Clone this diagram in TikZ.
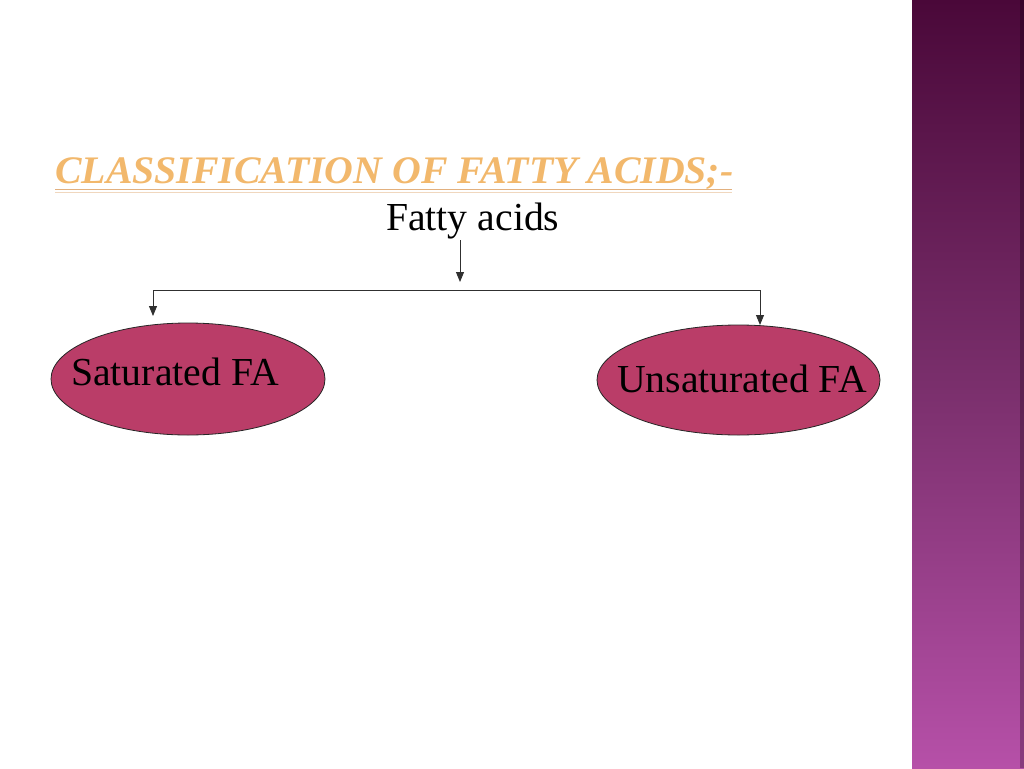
\documentclass[tikz,border=0pt]{standalone}
\usepackage{fontspec}
\setmainfont{Liberation Serif}
\usetikzlibrary{shapes.geometric,arrows.meta}
\definecolor{sidetop}{HTML}{4A0839}
\definecolor{sidemid}{HTML}{7A2F6C}
\definecolor{sidebot}{HTML}{B650A8}
\definecolor{ellfill}{HTML}{BA3D68}
\definecolor{titlecol}{HTML}{F2B86C}
\definecolor{ulinecol}{HTML}{E2B07E}
\definecolor{conncol}{HTML}{303030}
\tikzset{
  fabox/.style={ellipse, draw=black!85, line width=0.8pt, fill=ellfill, inner sep=0pt},
  labeltext/.style={font=\fontsize{39.7}{41}\selectfont, text=black, inner sep=0pt, anchor=base west},
  conn/.style={draw=conncol, line width=0.9pt},
  arr/.style={conn, -{Triangle[length=10pt,width=8pt]}}
}
\begin{document}
\begin{tikzpicture}[x=1pt,y=-1pt]
\useasboundingbox (0,0) rectangle (1024,768);
\fill[white] (0,0) rectangle (1024,768);
% sidebar
\shade[top color=sidetop, bottom color=sidebot, middle color=sidemid] (912,0) rectangle (1024,768);
\fill[black, opacity=0.25] (1020,0) rectangle (1024,768);
% title
\node[inner sep=0pt, anchor=base west, text=titlecol,
      font=\fontsize{39}{40}\selectfont\bfseries\itshape] (title) at (55,183)
      {\scalebox{1.02}[1]{CLASSIFICATION OF FATTY ACIDS;-}};
\draw[ulinecol, line width=1.6pt] (55,189.5) -- (732,189.5);
\draw[ulinecol!50, line width=1pt] (55,192.5) -- (732,192.5);
% root
\node[labeltext] (fa) at (386,230) {Fatty acids};
% ellipses
\node[fabox, minimum width=274pt, minimum height=112pt] (sat) at (188,379) {};
\node[fabox, minimum width=283pt, minimum height=110pt] (unsat) at (738.5,380) {};
\node[labeltext] (sattext) at (71,385) {Saturated FA};
\node[labeltext] (unsattext) at (617,392) {Unsaturated FA};
% connectors
\coordinate (fastem) at (460,240);
\coordinate (split) at (460,290);
\coordinate (satin) at (153,316);
\coordinate (unsatin) at (760,325);
\draw[arr, shorten >=8pt] (fastem) -- (split);
\draw[arr] (split) -| (satin);
\draw[arr] (split) -| (unsatin);
\end{tikzpicture}
\end{document}
